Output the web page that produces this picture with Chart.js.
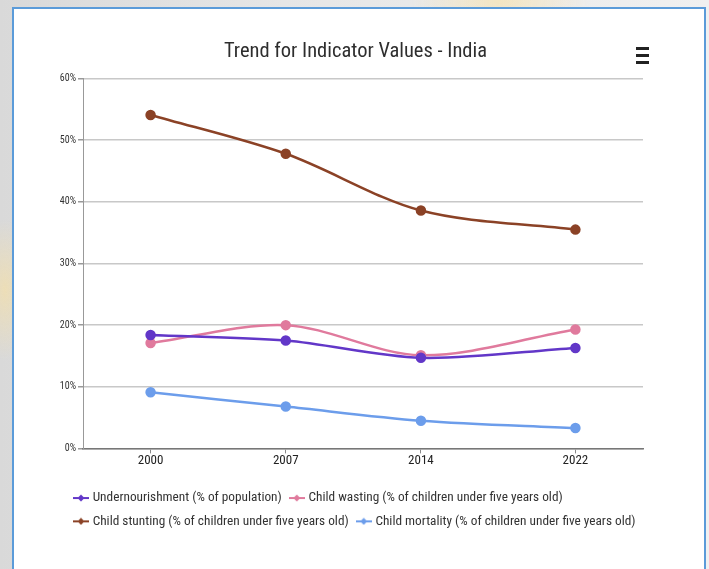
<!DOCTYPE html>
<html lang="en">
<head>
  <meta charset="UTF-8" />
  <title>Trend for Indicator Values - India</title>
  <script src="https://cdn.jsdelivr.net/npm/chart.js"></script>
  <style>
    html, body {
      margin: 0;
      padding: 0;
      width: 709px;
      height: 569px;
      overflow: hidden;
    }
    body {
      background:
        radial-gradient(ellipse 90px 60px at 500px 0px, rgba(250, 225, 160, 0.55), rgba(250, 225, 160, 0) 100%),
        radial-gradient(ellipse 30px 70px at 5px 290px, rgba(250, 225, 160, 0.6), rgba(250, 225, 160, 0) 100%),
        linear-gradient(90deg, #d9d9d9, #e6e6e6 40%, #f0f0f0);
    }
    .frame {
      position: absolute;
      left: 12px;
      top: 7px;
      width: 690px;
      height: 600px;
      background: #fff;
      border: 2px solid #5b9bd9;
    }
    .box {
      position: absolute;
      left: 0px;
      top: 0px;
      width: 688px;
      height: 540px;
    }
    .menu {
      position: absolute;
      left: 622px;
      top: 38px;
      width: 13px;
    }
    .menu span {
      display: block;
      height: 3px;
      margin-bottom: 4px;
      background: #222;
    }
  </style>
</head>
<body>
  <div class="frame">
    <div class="box"><canvas id="chart"></canvas></div>
    <div class="menu"><span></span><span></span><span></span></div>
  </div>
  <script>
    const years = [2000, 2007, 2014, 2022];
    const undernourishment = [18.4, 17.5, 14.7, 16.3];
    const wasting = [17.1, 20.0, 15.1, 19.3];
    const stunting = [54.1, 47.8, 38.6, 35.5];
    const mortality = [9.1, 6.8, 4.5, 3.3];
    const yTicks = [0, 10, 20, 30, 40, 50, 60];

    const seriesNames = [
      "Undernourishment (% of population)",
      "Child wasting (% of children under five years old)",
      "Child stunting (% of children under five years old)",
      "Child mortality (% of children under five years old)"
    ];
    const seriesValues = [undernourishment, wasting, stunting, mortality];
    const seriesColors = ["#6237c8", "#e07a9d", "#8b4226", "#6c9deb"];

    // little line-with-diamond marker used in the legend
    function legendMarker(color) {
      const c = document.createElement("canvas");
      c.width = 16;
      c.height = 8;
      const g = c.getContext("2d");
      g.fillStyle = color;
      g.fillRect(0, 3, 16, 2);
      g.beginPath();
      g.moveTo(8, 0.5);
      g.lineTo(11.5, 4);
      g.lineTo(8, 7.5);
      g.lineTo(4.5, 4);
      g.closePath();
      g.fill();
      return c;
    }

    const datasets = seriesNames.map((name, i) => ({
      label: name,
      data: years.map((y, j) => ({ x: y, y: seriesValues[i][j] })),
      borderColor: seriesColors[i],
      backgroundColor: seriesColors[i],
      borderWidth: 2.5,
      pointRadius: 4,
      pointHoverRadius: 5,
      tension: 0.32,
      fill: false
    }));

    const font = "'Roboto Condensed', Roboto, sans-serif";

    // move legend and title sideways, the y axis takes the whole left margin
    const shiftBoxes = {
      id: "shiftBoxes",
      afterLayout(chart) {
        chart.legend.left += 52;
        chart.legend.right += 52;
        chart.titleBlock.left += 27;
        chart.titleBlock.right += 27;
      }
    };

    new Chart(document.getElementById("chart"), {
      type: "line",
      data: { datasets: datasets },
      plugins: [shiftBoxes],
      options: {
        responsive: true,
        maintainAspectRatio: false,
        animation: false,
        layout: { padding: { left: 0, right: 59, top: 0, bottom: 11 } },
        scales: {
          x: {
            type: "linear",
            min: 1996.5,
            max: 2025.5,
            afterBuildTicks: (s) => { s.ticks = years.map(v => ({ value: v })); },
            afterFit: (s) => { s.height = 33; },
            ticks: {
              color: "#222",
              font: { family: font, size: 13 },
              padding: 0,
              callback: (v) => String(v)
            },
            grid: { drawOnChartArea: false, tickLength: 5, tickColor: "#888" },
            border: { color: "#777", width: 1.5 }
          },
          y: {
            min: 0,
            max: 60,
            afterBuildTicks: (s) => { s.ticks = yTicks.map(v => ({ value: v })); },
            afterFit: (s) => { s.width = 69; },
            ticks: {
              color: "#333",
              font: { family: font, size: 10 },
              padding: 2,
              callback: (v) => v + "%"
            },
            grid: { color: "#c8c8c8", lineWidth: 1.5, tickLength: 5, tickColor: "#999" },
            border: { color: "#999", width: 1 }
          }
        },
        plugins: {
          title: {
            display: true,
            text: "Trend for Indicator Values - India",
            color: "#2e2e2e",
            font: { family: font, size: 20.5, weight: "normal" },
            padding: { top: 31, bottom: 14 }
          },
          legend: {
            position: "bottom",
            align: "start",
            maxWidth: 620,
            labels: {
              color: "#333",
              font: { family: font, size: 13.3 },
              usePointStyle: true,
              pointStyleWidth: 10,
              padding: 10,
              generateLabels: (chart) => {
                const items = Chart.defaults.plugins.legend.labels.generateLabels(chart);
                items.forEach((it, i) => { it.pointStyle = legendMarker(seriesColors[i]); });
                return items;
              }
            }
          },
          tooltip: { enabled: false }
        }
      }
    });
  </script>
</body>
</html>
